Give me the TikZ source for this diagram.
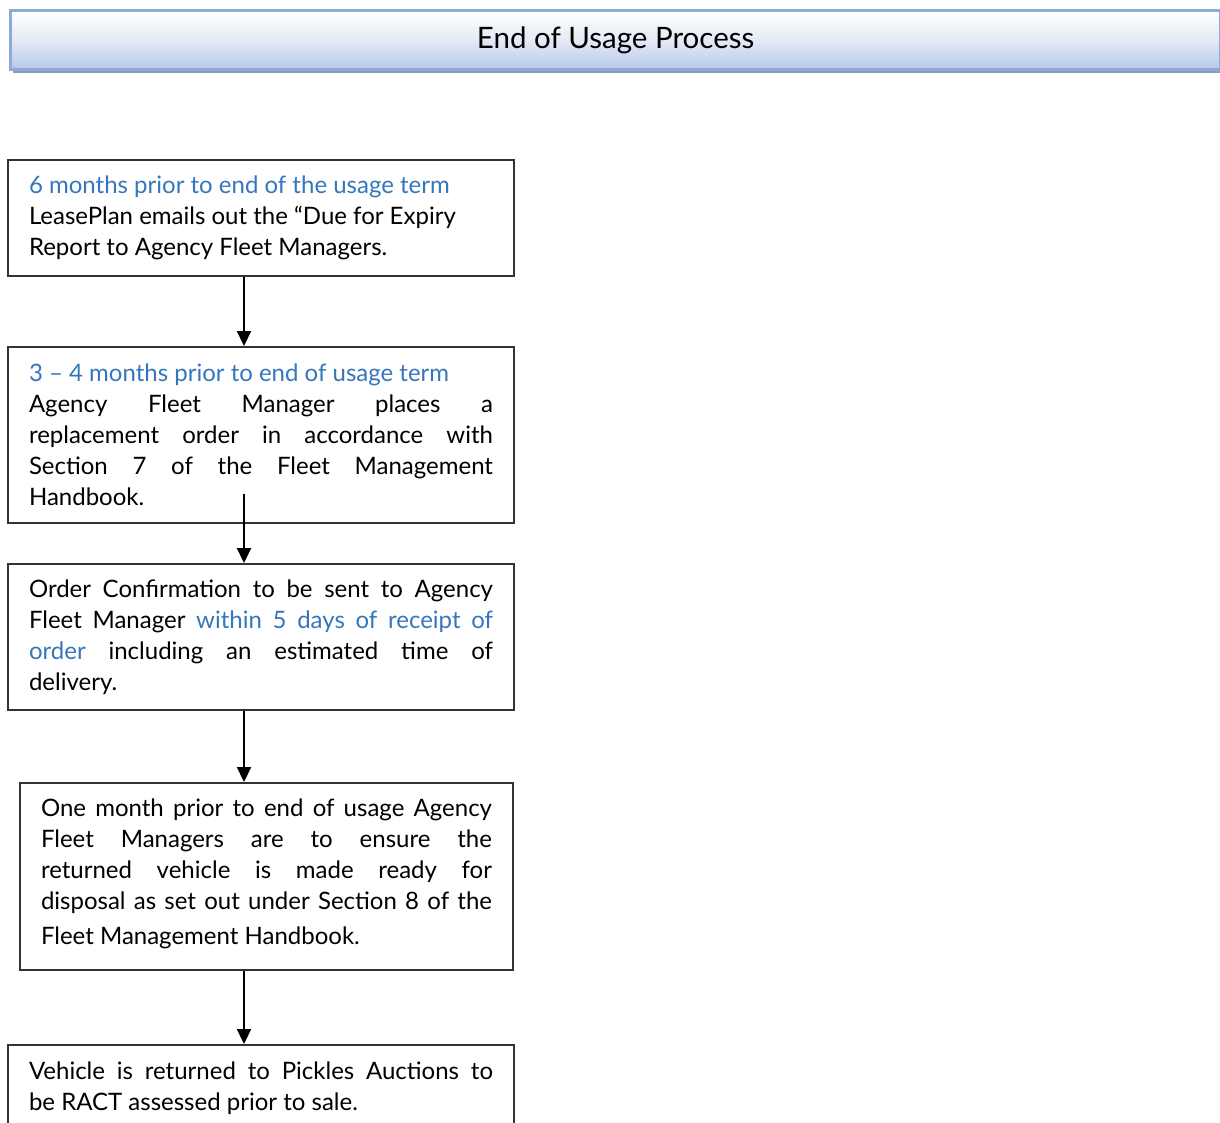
\documentclass[tikz,border=0pt]{standalone}
\usepackage{fontspec}
\setmainfont{Lato}
\usetikzlibrary{arrows.meta}
\definecolor{blu}{HTML}{3676BC}
\definecolor{hdrborder}{HTML}{8EAADB}
\definecolor{hdrbot}{HTML}{B6C8E8}
\definecolor{hdrmid}{HTML}{E4EAF5}
\definecolor{hdrshadow}{HTML}{8E9AB2}
\definecolor{boxline}{HTML}{333333}
\newcommand{\bluetext}[1]{\textcolor{blu}{#1}}
\tikzset{
  stepbox/.style={draw=boxline, line width=2pt, anchor=north west, inner xsep=21pt, inner ysep=4pt,
    font=\fontsize{24}{31}\selectfont, text width=464pt, align=justify},
  arr/.style={draw=black, line width=2.2pt, -{Triangle[width=14pt,length=15pt]}},
}
\begin{document}
\begin{tikzpicture}[x=1pt,y=-1pt]
\useasboundingbox (0,0) rectangle (1220,1122);
\clip (0,0) rectangle (1220,1122);
\fill[hdrshadow] (13,13) rectangle (1226,73);
\node[draw=hdrborder, line width=2.6pt, top color=white, bottom color=hdrbot, middle color=hdrmid,
  anchor=north west, minimum width=1210pt, minimum height=59pt, inner sep=0pt,
  font=\fontsize{29.5}{32}\selectfont] (title) at (9.3,9.3) {End of Usage Process};

\begingroup\hyphenpenalty=10000 \hbadness=10000
\node[stepbox, minimum height=116pt] (b1) at (7,159) {\bluetext{6 months prior to end of the usage term}\newline LeasePlan emails out the “Due for Expiry\newline Report to Agency Fleet Managers.};
\node[stepbox, minimum height=176pt] (b2) at (7,346) {\bluetext{3 – 4 months prior to end of usage term}\newline Agency Fleet Manager places a\linebreak replacement order in accordance with\linebreak Section 7 of the Fleet Management\linebreak Handbook.};
\node[stepbox, minimum height=146pt] (b3) at (7,563) {Order Confirmation to be sent to Agency\linebreak Fleet Manager \bluetext{within 5 days of receipt of\linebreak order} including an estimated time of\linebreak delivery.};
\node[stepbox, minimum height=187pt, text width=451pt] (b4) at (19,782) {One month prior to end of usage Agency\linebreak Fleet Managers are to ensure the\linebreak returned vehicle is made ready for\linebreak disposal as set out under Section 8 of the\vspace{4pt}\linebreak Fleet Management Handbook.\vspace{6pt}};
\node[stepbox, minimum height=86pt] (b5) at (7,1044) {Vehicle is returned to Pickles Auctions to\linebreak be RACT assessed prior to sale.};
\endgroup

\draw[arr] ([xshift=237pt]b1.south west) -- ([xshift=237pt]b2.north west);
\draw[arr] ([xshift=237pt,yshift=30pt]b2.south west) -- ([xshift=237pt]b3.north west);
\draw[arr] ([xshift=237pt]b3.south west) -- ([xshift=225pt]b4.north west);
\draw[arr] ([xshift=225pt]b4.south west) -- ([xshift=237pt]b5.north west);
\end{tikzpicture}
\end{document}
